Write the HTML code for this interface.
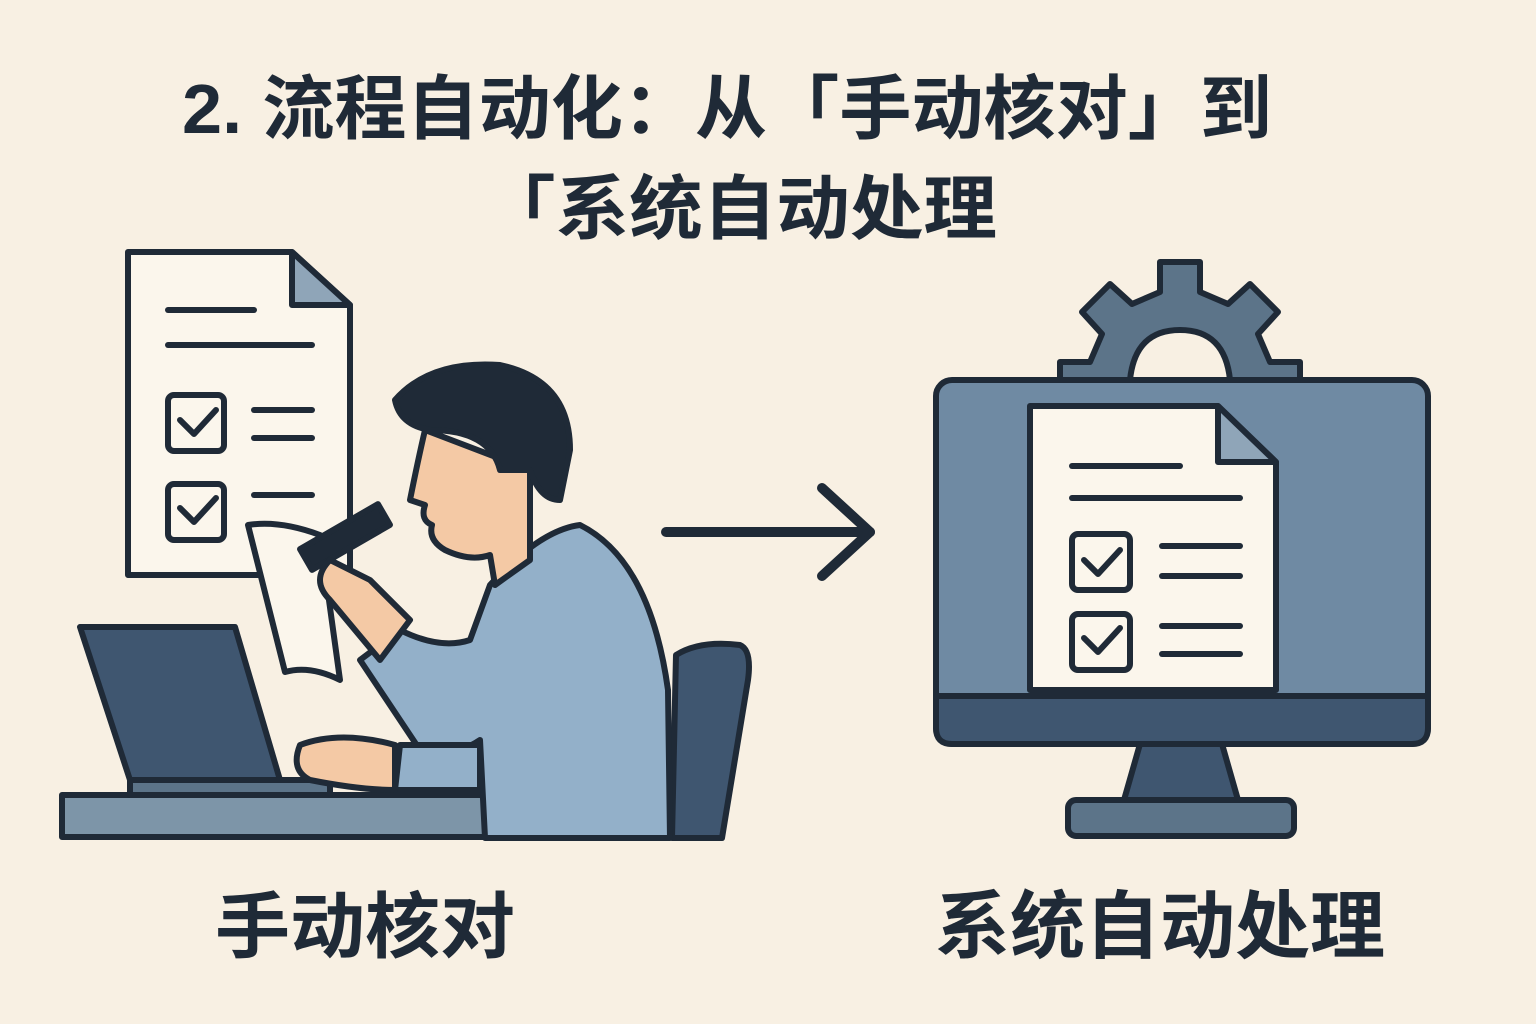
<!DOCTYPE html>
<html><head><meta charset="utf-8"><style>
html,body{margin:0;padding:0;background:#f8f0e3;}
svg{display:block}
text{font-family:"Liberation Sans","Noto Sans CJK SC",sans-serif;font-weight:bold;fill:#1f2a37}
</style></head><body>
<svg width="1536" height="1024" viewBox="0 0 1536 1024" xmlns="http://www.w3.org/2000/svg">
<rect width="1536" height="1024" fill="#f8f0e3"/>
<text x="182" y="133" font-size="70" textLength="1090" lengthAdjust="spacingAndGlyphs">2. 流程自动化：从「手动核对」到</text>
<text x="482" y="233" font-size="70" textLength="515" lengthAdjust="spacingAndGlyphs">「系统自动处理</text>

<g stroke="#1f2a37" stroke-width="6" stroke-linejoin="round" stroke-linecap="round">
<path d="M128 252 H292 L350 305 V575 H128 Z" fill="#fbf6ec"/>
<path d="M292 252 V305 H350 Z" fill="#8fa5b8"/>
<line x1="168" y1="310" x2="254" y2="310"/>
<line x1="168" y1="345" x2="312" y2="345"/>
<rect x="168" y="395" width="56" height="56" rx="6" fill="#fbf6ec"/>
<path d="M180 420 l14 14 l22 -24" fill="none"/>
<line x1="254" y1="410" x2="312" y2="410"/><line x1="254" y1="438" x2="312" y2="438"/>
<rect x="168" y="484" width="56" height="56" rx="6" fill="#fbf6ec"/>
<path d="M180 508 l14 14 l22 -24" fill="none"/>
<line x1="254" y1="495" x2="312" y2="495"/>

<path d="M676 655 Q700 640 740 645 Q752 650 748 680 L722 838 H672 Z" fill="#3f5670"/>
<rect x="62" y="795" width="430" height="42" fill="#7d95a8"/>
<path d="M80 627 H235 L280 780 H130 Z" fill="#3f5670"/>
<path d="M130 780 H330 V795 H130 Z" fill="#5c7489"/>
<path d="M490 585 Q540 530 580 525 Q650 560 668 690 L670 838 H485 L480 740 Q450 760 420 750 L360 660 L400 630 Q440 650 470 640 Z" fill="#93b0c9"/>
<path d="M400 745 H480 V790 H395 Z" fill="#93b0c9"/>
<path d="M395 745 Q340 730 300 745 Q290 770 310 780 Q360 790 395 790 Z" fill="#f4c9a5"/>
<path d="M425 430 Q418 460 410 500 L425 505 Q420 520 432 525 Q428 540 445 550 Q470 562 490 555 L495 585 L530 560 L530 470 Z" fill="#f4c9a5"/>
<path d="M395 400 Q430 360 500 365 Q570 380 570 450 L560 500 Q540 500 530 470 L500 470 Q490 430 430 430 Q400 425 395 400 Z" fill="#1f2a37"/>
<path d="M248 525 Q280 520 320 535 L340 680 Q310 665 285 672 Z" fill="#fbf6ec"/>
<rect x="300" y="525" width="90" height="24" transform="rotate(-30 345 537)" fill="#1f2a37"/>
<path d="M330 560 Q310 580 330 600 L380 660 L410 620 L370 580 Z" fill="#f4c9a5"/>

<line x1="666" y1="532" x2="870" y2="532" stroke-width="10"/>
<path d="M822 488 L870 532 L822 576" fill="none" stroke-width="10"/>

<path d="M1160 262 h40 v30 l28 12 l22 -20 l28 28 l-20 22 l12 28 h30 v40 H1060 v-40 h30 l12 -28 l-20 -22 l28 -28 l22 20 l28 -12 Z" fill="#5c7489"/>
<path d="M1130 380 Q1135 330 1180 330 Q1225 330 1230 380 Z" fill="#f8f0e3"/>
<rect x="936" y="380" width="492" height="364" rx="16" fill="#6f8aa3"/>
<path d="M936 696 H1428 V728 Q1428 744 1412 744 H952 Q936 744 936 728 Z" fill="#3f5670"/>
<path d="M1140 744 H1222 L1238 800 H1124 Z" fill="#3f5670"/>
<rect x="1068" y="800" width="226" height="36" rx="8" fill="#5c7489"/>
<path d="M1030 406 H1218 L1276 462 V690 H1030 Z" fill="#fbf6ec"/>
<path d="M1218 406 V462 H1276 Z" fill="#8fa5b8"/>
<line x1="1072" y1="466" x2="1180" y2="466"/>
<line x1="1072" y1="498" x2="1240" y2="498"/>
<rect x="1072" y="534" width="58" height="56" rx="6" fill="#fbf6ec"/>
<path d="M1084 560 l14 14 l22 -24" fill="none"/>
<line x1="1162" y1="546" x2="1240" y2="546"/><line x1="1162" y1="576" x2="1240" y2="576"/>
<rect x="1072" y="614" width="58" height="56" rx="6" fill="#fbf6ec"/>
<path d="M1084 638 l14 14 l22 -24" fill="none"/>
<line x1="1162" y1="626" x2="1240" y2="626"/><line x1="1162" y1="654" x2="1240" y2="654"/>
</g>

<text x="215" y="952" font-size="72" textLength="300" lengthAdjust="spacingAndGlyphs">手动核对</text>
<text x="935" y="952" font-size="74" textLength="450" lengthAdjust="spacingAndGlyphs">系统自动处理</text>
</svg>
</body></html>
